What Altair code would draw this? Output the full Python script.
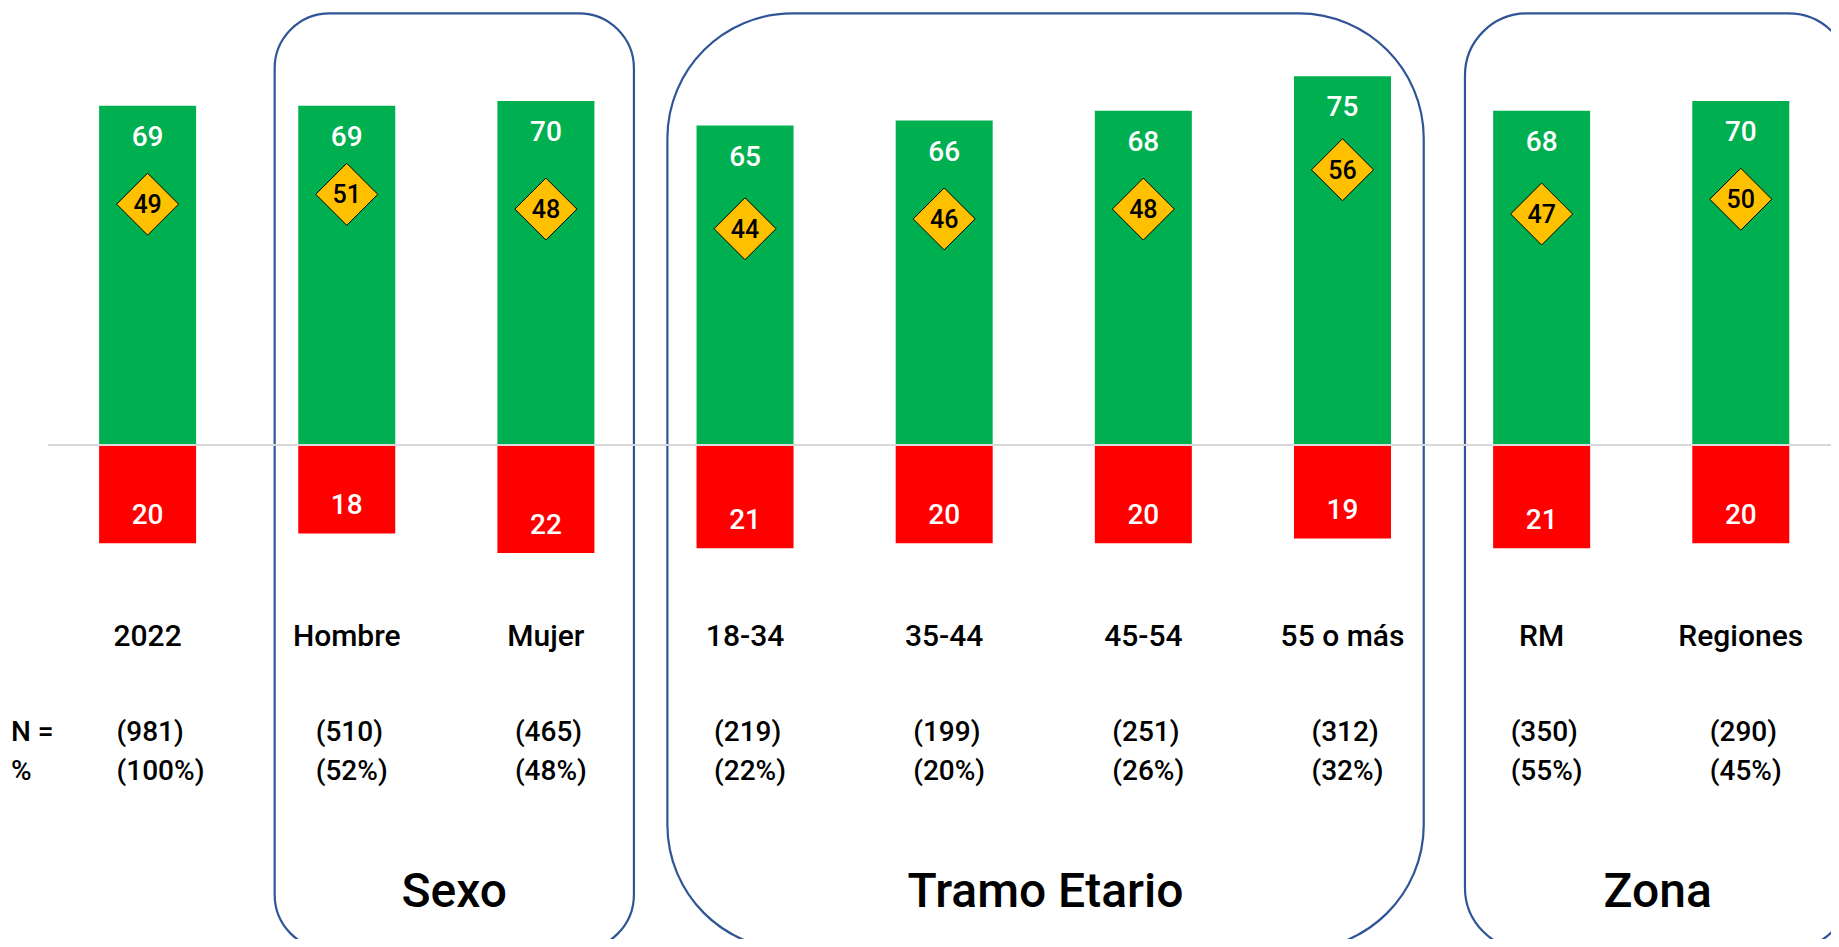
import altair as alt
import pandas as pd

# ---------------- data ----------------
categories = ["2022", "Hombre", "Mujer", "18-34", "35-44", "45-54", "55 o más", "RM", "Regiones"]
aprueba = [69, 69, 70, 65, 66, 68, 75, 68, 70]
desaprueba = [20, 18, 22, 21, 20, 20, 19, 21, 20]
indicador = [49, 51, 48, 44, 46, 48, 56, 47, 50]
n_casos = [981, 510, 465, 219, 199, 251, 312, 350, 290]
pct_casos = [100, 52, 48, 22, 20, 26, 32, 55, 45]
grupo = ["", "Sexo", "Sexo", "Tramo Etario", "Tramo Etario", "Tramo Etario", "Tramo Etario", "Zona", "Zona"]
group_titles = ["Sexo", "Tramo Etario", "Zona"]

# ---------------- layout / style ----------------
W, H = 1823, 931
FONT = "Roboto"
GREEN, RED, YELLOW, BLUE, GRID = "#00B050", "#FF0000", "#FFC000", "#2F5597", "#D9D9D9"
box_pad_left = [0.362, 0.39, 0.385]
box_pad_right = [0.442, 0.408, 0.55]
box_radius = [55, 125, 62]
box_top, box_bottom = 87.8, -102.7

df = pd.DataFrame({
    "idx": list(range(len(categories))),
    "cat": categories,
    "aprueba": aprueba,
    "desaprueba": desaprueba,
    "indicador": indicador,
    "n": n_casos,
    "pct": pct_casos,
    "grupo": grupo,
})

rows = []
for k, g in enumerate(group_titles):
    members = df[df.grupo == g].idx
    x0 = float(members.min() - box_pad_left[k])
    x1 = float(members.max() + box_pad_right[k])
    rows.append({"g": g, "x0": x0, "x1": x1, "xc": (x0 + x1) / 2,
                 "top": box_top, "bottom": box_bottom})
boxes = pd.DataFrame(rows)

xscale = alt.Scale(domain=[-0.701, 8.453], nice=False, zero=False, padding=0)
yscale = alt.Scale(domain=[-100.51, 88.91], nice=False, zero=False)

base = alt.Chart(df).transform_calculate(
    neg="-datum.desaprueba",
    zero="0",
    ntxt="'(' + datum.n + ')'",
    ptxt="'(' + datum.pct + '%)'",
)
X = alt.X("idx:Q", scale=xscale, axis=None)

layers = []
# group boxes
for k, g in enumerate(group_titles):
    layers.append(
        alt.Chart(boxes[boxes.g == g]).mark_rect(
            cornerRadius=box_radius[k], fillOpacity=0, stroke=BLUE, strokeWidth=2.2
        ).encode(
            x=alt.X("x0:Q", scale=xscale, axis=None), x2="x1:Q",
            y=alt.Y("top:Q", scale=yscale, axis=None), y2="bottom:Q",
        )
    )

green = base.mark_bar(size=97, color=GREEN).encode(
    x=X, y=alt.Y("aprueba:Q", scale=yscale, axis=None), y2="zero:Q")
red = base.mark_bar(size=97, color=RED).encode(
    x=X, y=alt.Y("neg:Q", scale=yscale, axis=None), y2="zero:Q")
rule = base.transform_filter("datum.idx == 0").mark_rule(color=GRID, strokeWidth=2).encode(
    x=alt.value(40), x2=alt.value(W), y=alt.Y("zero:Q", scale=yscale, axis=None))

green_lbl = base.mark_text(font=FONT, fontSize=28, fontWeight=500, color="white",
                           baseline="middle", dy=32).encode(
    x=X, y=alt.Y("aprueba:Q", scale=yscale, axis=None), text="aprueba:Q")
red_lbl = base.mark_text(font=FONT, fontSize=28, fontWeight=500, color="white",
                         baseline="middle", dy=-27).encode(
    x=X, y=alt.Y("neg:Q", scale=yscale, axis=None), text="desaprueba:Q")
diam = base.mark_point(shape="diamond", size=3844, filled=True, fill=YELLOW,
                       stroke="black", strokeWidth=1, opacity=1).encode(
    x=X, y=alt.Y("indicador:Q", scale=yscale, axis=None))
diam_lbl = base.mark_text(font=FONT, fontSize=25, fontWeight=500, color="black",
                          baseline="middle", dy=1).encode(
    x=X, y=alt.Y("indicador:Q", scale=yscale, axis=None), text="indicador:Q")

cat_lbl = base.mark_text(font=FONT, fontSize=30, fontWeight=500, color="black",
                         baseline="middle").encode(
    x=X, y=alt.value(629), text="cat:N")
n_lbl = base.mark_text(font=FONT, fontSize=28, fontWeight=500, color="black",
                       baseline="middle", align="left", dx=-31).encode(
    x=X, y=alt.value(725), text="ntxt:N")
p_lbl = base.mark_text(font=FONT, fontSize=28, fontWeight=500, color="black",
                       baseline="middle", align="left", dx=-31).encode(
    x=X, y=alt.value(764), text="ptxt:N")

hdr_n = alt.Chart(pd.DataFrame({"t": ["N ="]})).mark_text(
    font=FONT, fontSize=28, fontWeight=500, color="black", baseline="middle", align="left"
).encode(x=alt.value(3), y=alt.value(725), text="t:N")
hdr_p = alt.Chart(pd.DataFrame({"t": ["%"]})).mark_text(
    font=FONT, fontSize=28, fontWeight=500, color="black", baseline="middle", align="left"
).encode(x=alt.value(3), y=alt.value(764), text="t:N")

titles = alt.Chart(boxes).mark_text(font=FONT, fontSize=48, fontWeight=500, color="black",
                                    baseline="alphabetic").encode(
    x=alt.X("xc:Q", scale=xscale, axis=None), y=alt.value(899), text="g:N")

chart = alt.layer(
    *layers, green, red, rule, green_lbl, red_lbl, diam, diam_lbl,
    cat_lbl, n_lbl, p_lbl, hdr_n, hdr_p, titles
).properties(
    width=W, height=H, padding=0,
    autosize=alt.AutoSizeParams(type="none"),
    background="white",
).configure_view(stroke=None)

chart.save("out.html", embed_options={"renderer": "svg", "actions": False})
